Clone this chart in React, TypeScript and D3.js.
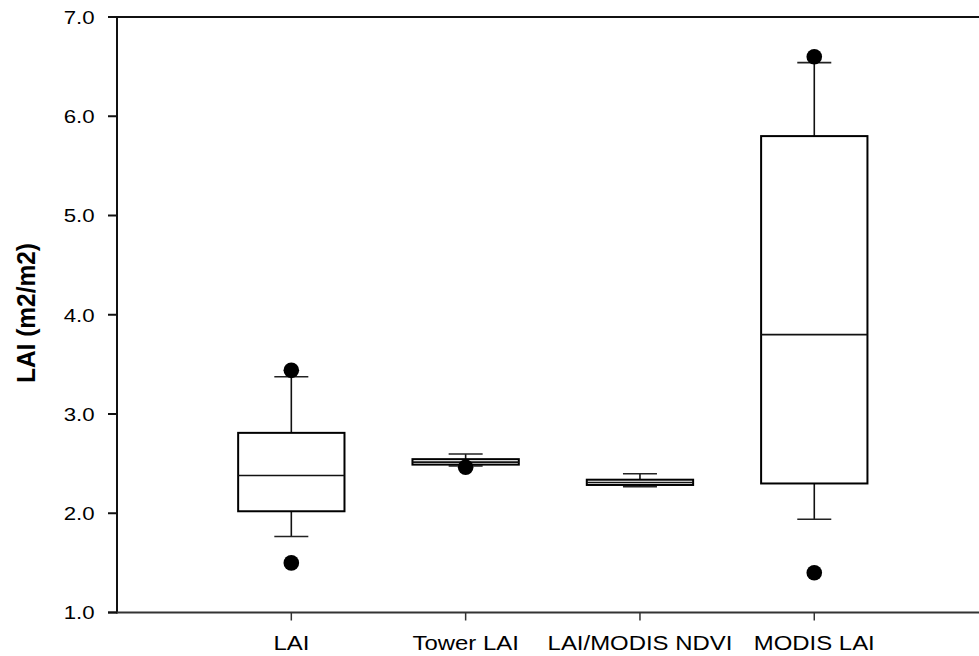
import React from "react";
import * as d3 from "d3";

const categories = ["LAI", "Tower LAI", "LAI/MODIS NDVI", "MODIS LAI"];
const q1 = [2.02, 2.49, 2.285, 2.3];
const medians = [2.38, 2.515, 2.31, 3.8];
const q3 = [2.81, 2.545, 2.338, 5.8];
const whiskerLow = [1.765, 2.476, 2.268, 1.94];
const whiskerHigh = [3.376, 2.597, 2.398, 6.54];
const outliers: number[][] = [[3.44, 1.5], [2.463], [], [6.6, 1.4]];
const yTicks = [1, 2, 3, 4, 5, 6, 7];

const W = 979;
const H = 656;
const left = 117;
const right = 988.6;
const top = 17;
const bottom = 612.5;

export default function App() {
  const x = d3.scalePoint<string>().domain(categories).range([left, right]).padding(1);
  const y = d3.scaleLinear().domain([1, 7]).range([bottom, top]);
  const step = x.step();
  const boxW = step * 0.61;
  const capW = 34;
  const font = "'Liberation Sans', Arial, sans-serif";

  return (
    <svg
      width={W}
      height={H}
      style={{ position: "absolute", left: 0, top: 0, background: "#fff" }}
      viewBox={`0 0 ${W} ${H}`}
    >
      <rect x={0} y={0} width={W} height={H} fill="#fff" />
      {/* boxes */}
      {categories.map((c, i) => {
        const cx = x(c)!;
        return (
          <g key={c}>
            <line x1={cx} x2={cx} y1={y(q3[i])} y2={y(whiskerHigh[i])} stroke="#111" strokeWidth={1.6} />
            <line x1={cx} x2={cx} y1={y(q1[i])} y2={y(whiskerLow[i])} stroke="#111" strokeWidth={1.6} />
            <line x1={cx - capW / 2} x2={cx + capW / 2} y1={y(whiskerHigh[i])} y2={y(whiskerHigh[i])} stroke="#222" strokeWidth={1.6} />
            <line x1={cx - capW / 2} x2={cx + capW / 2} y1={y(whiskerLow[i])} y2={y(whiskerLow[i])} stroke="#222" strokeWidth={1.6} />
            <rect
              x={cx - boxW / 2}
              y={y(q3[i])}
              width={boxW}
              height={y(q1[i]) - y(q3[i])}
              fill="#fff"
              stroke="#000"
              strokeWidth={2}
            />
            <line x1={cx - boxW / 2} x2={cx + boxW / 2} y1={y(medians[i])} y2={y(medians[i])} stroke="#111" strokeWidth={1.6} />
            {outliers[i].map((v, j) => (
              <circle key={j} cx={cx} cy={y(v)} r={7.8} fill="#000" />
            ))}
          </g>
        );
      })}
      {/* axes */}
      <line x1={left} x2={W + 20} y1={top} y2={top} stroke="#111" strokeWidth={2} />
      <line x1={left} x2={left} y1={top - 1} y2={bottom + 1} stroke="#111" strokeWidth={2} />
      <line x1={108} x2={W + 20} y1={bottom} y2={bottom} stroke="#333" strokeWidth={2} />
      {yTicks.map((t) => (
        <g key={t}>
          <line x1={108} x2={left} y1={y(t)} y2={y(t)} stroke="#111" strokeWidth={2} />
          <text
            transform={`translate(94.5, ${y(t)}) scale(1.17, 1)`}
            dy="0.36em"
            textAnchor="end"
            fontFamily={font}
            fontSize={19}
            fill="#000"
          >
            {d3.format(".1f")(t)}
          </text>
        </g>
      ))}
      {categories.map((c) => (
        <g key={c}>
          <line x1={x(c)!} x2={x(c)!} y1={bottom} y2={bottom + 8} stroke="#333" strokeWidth={1.5} />
          <text
            transform={`translate(${x(c)!}, 650) scale(1.15, 1)`}
            textAnchor="middle"
            fontFamily={font}
            fontSize={20.8}
            fill="#000"
          >
            {c}
          </text>
        </g>
      ))}
      <text
        transform={`translate(35, ${313}) rotate(-90) scale(1.02, 1.05)`}
        textAnchor="middle"
        fontFamily={font}
        fontWeight="bold"
        fontSize={24}
        fill="#000"
      >
        LAI (m2/m2)
      </text>
    </svg>
  );
}
